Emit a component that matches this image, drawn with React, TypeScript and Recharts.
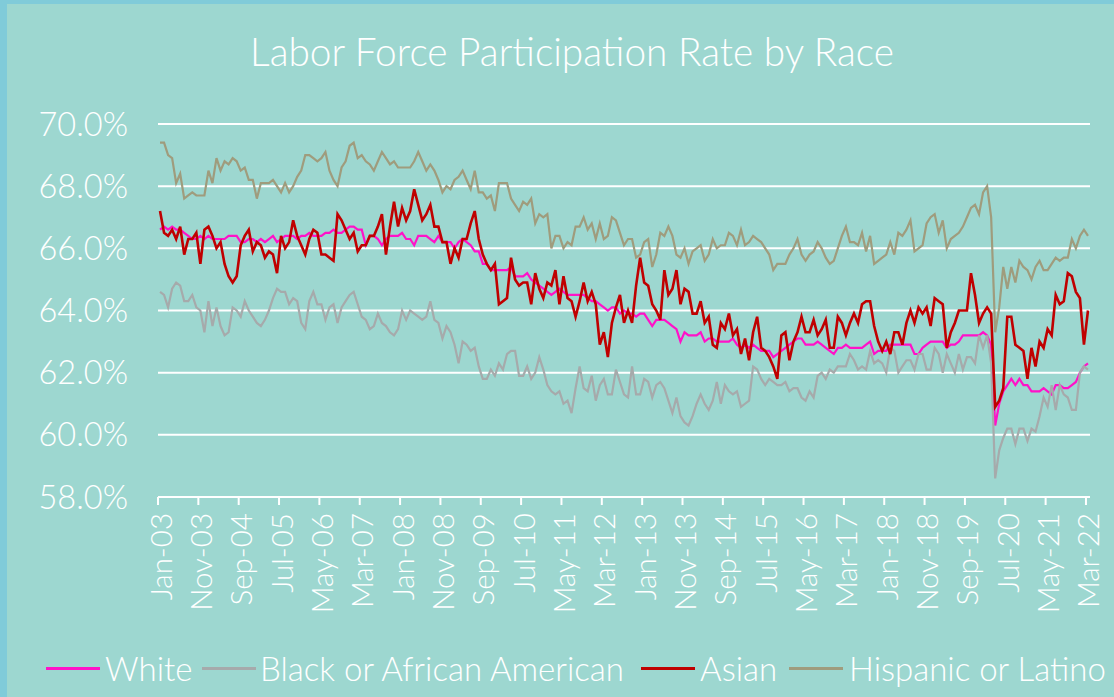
import React from 'react';
import { LineChart, Line, XAxis, YAxis, CartesianGrid } from 'recharts';

const TITLE = 'Labor Force Participation Rate by Race';

const TICK_LABELS = [
  'Jan-03', 'Nov-03', 'Sep-04', 'Jul-05', 'May-06', 'Mar-07', 'Jan-08', 'Nov-08',
  'Sep-09', 'Jul-10', 'May-11', 'Mar-12', 'Jan-13', 'Nov-13', 'Sep-14', 'Jul-15',
  'May-16', 'Mar-17', 'Jan-18', 'Nov-18', 'Sep-19', 'Jul-20', 'May-21', 'Mar-22',
];

const Y_TICKS = [58, 60, 62, 64, 66, 68, 70];

const WHITE = [
  66.6, 66.7, 66.6, 66.7, 66.6, 66.6, 66.5, 66.4, 66.3, 66.3,
  66.4, 66.3, 66.4, 66.3, 66.3, 66.3, 66.3, 66.4, 66.4, 66.4,
  66.2, 66.2, 66.3, 66.3, 66.2, 66.3, 66.2, 66.3, 66.4, 66.2,
  66.3, 66.4, 66.4, 66.4, 66.3, 66.4, 66.4, 66.5, 66.4, 66.4,
  66.4, 66.5, 66.5, 66.6, 66.5, 66.5, 66.6, 66.7, 66.7, 66.6,
  66.6, 66.1, 66.4, 66.4, 66.3, 66.1, 66.3, 66.4, 66.4, 66.4,
  66.5, 66.3, 66.3, 66.1, 66.4, 66.4, 66.4, 66.3, 66.2, 66.4,
  66.2, 66.2, 66.2, 66.0, 66.2, 66.3, 66.2, 66.1, 65.9, 65.9,
  65.5, 65.5, 65.3, 65.3, 65.3, 65.3, 65.3, 65.4, 65.1, 65.1,
  65.1, 65.2, 65.0, 64.9, 64.8, 64.7, 64.6, 64.5, 64.6, 64.7,
  64.6, 64.5, 64.5, 64.5, 64.5, 64.5, 64.4, 64.3, 64.3, 64.2,
  64.1, 64.0, 64.1, 64.1, 63.9, 64.0, 63.9, 63.9, 63.8, 63.9,
  63.9, 63.7, 63.5, 63.7, 63.7, 63.7, 63.6, 63.5, 63.4, 63.0,
  63.3, 63.2, 63.2, 63.2, 63.3, 63.0, 63.1, 63.1, 63.0, 63.0,
  63.0, 63.0, 63.1, 62.9, 62.8, 62.9, 62.8, 62.9, 62.8, 62.7,
  62.7, 62.7, 62.5, 62.6, 62.7, 62.8, 62.9, 63.0, 63.1, 63.1,
  62.9, 62.9, 62.9, 63.0, 62.9, 62.8, 62.7, 62.6, 62.8, 62.8,
  62.9, 62.8, 62.8, 62.8, 62.8, 62.9, 63.0, 62.6, 62.7, 62.7,
  62.7, 62.9, 62.9, 62.9, 62.9, 62.9, 62.9, 62.6, 62.6, 62.8,
  62.9, 63.0, 63.0, 63.0, 63.0, 62.8, 62.9, 62.9, 63.0, 63.2,
  63.2, 63.2, 63.2, 63.2, 63.3, 63.2, 62.9, 60.3, 61.0, 61.4,
  61.6, 61.8, 61.6, 61.8, 61.6, 61.6, 61.4, 61.4, 61.4, 61.5,
  61.4, 61.3, 61.6, 61.6, 61.5, 61.5, 61.6, 61.7, 62.0, 62.2,
  62.3,
];

const BLACK = [
  64.6, 64.5, 64.1, 64.7, 64.9, 64.8, 64.3, 64.3, 64.5, 64.1,
  64.0, 63.3, 64.3, 63.5, 64.1, 63.5, 63.2, 63.3, 64.1, 64.0,
  63.8, 64.3, 64.0, 63.8, 63.6, 63.5, 63.7, 64.0, 64.4, 64.7,
  64.6, 64.6, 64.2, 64.4, 64.3, 63.6, 63.4, 64.3, 64.6, 64.2,
  64.2, 63.7, 64.1, 64.2, 63.6, 64.1, 64.3, 64.5, 64.6, 64.2,
  63.8, 63.7, 63.4, 63.5, 63.9, 63.6, 63.5, 63.3, 63.2, 63.4,
  64.0, 63.7, 64.0, 63.9, 63.8, 63.7, 63.8, 64.3, 63.7, 63.6,
  63.1, 63.5, 63.3, 62.9, 62.3, 63.0, 62.9, 62.7, 62.8, 62.2,
  61.8, 61.8, 62.1, 61.9, 62.3, 62.1, 62.6, 62.7, 62.7, 61.9,
  61.9, 62.2, 61.8, 62.0, 62.5, 62.1, 61.6, 61.4, 61.3, 61.4,
  61.0, 61.1, 60.7, 61.5, 62.2, 61.5, 61.4, 61.9, 61.1, 61.6,
  61.8, 61.3, 61.3, 62.1, 61.7, 61.3, 61.2, 62.2, 61.3, 61.3,
  61.8, 61.7, 61.2, 61.6, 61.7, 61.5, 61.1, 60.7, 61.2, 60.6,
  60.4, 60.3, 60.6, 61.0, 61.3, 61.0, 60.8, 61.1, 61.7, 61.0,
  61.6, 61.4, 61.3, 61.4, 60.9, 61.0, 61.1, 62.2, 62.1, 61.8,
  61.6, 61.8, 61.7, 61.6, 61.6, 61.7, 61.4, 61.5, 61.5, 61.2,
  61.1, 61.4, 61.2, 61.9, 62.0, 61.8, 62.1, 62.0, 62.2, 62.2,
  62.2, 62.6, 62.4, 62.1, 62.2, 62.1, 62.7, 62.3, 62.4, 62.3,
  62.0, 62.8, 62.7, 62.0, 62.2, 62.4, 62.4, 62.1, 62.6, 62.6,
  62.1, 62.1, 62.8, 62.6, 62.0, 62.6, 62.3, 62.0, 62.6, 62.1,
  62.5, 62.5, 62.3, 63.2, 62.8, 63.2, 62.3, 58.6, 59.5, 59.9,
  60.2, 60.2, 59.7, 60.2, 60.2, 59.8, 60.2, 60.1, 60.6, 61.2,
  60.9, 61.6, 60.8, 61.6, 61.3, 61.2, 60.8, 60.8, 62.0, 62.2,
  62.1,
];

const ASIAN = [
  67.2, 66.5, 66.4, 66.6, 66.3, 66.7, 65.8, 66.3, 66.3, 66.5,
  65.5, 66.6, 66.7, 66.4, 66.0, 66.2, 65.5, 65.1, 64.9, 65.1,
  66.1, 66.4, 66.6, 65.9, 66.2, 66.1, 65.7, 65.9, 65.8, 65.2,
  66.4, 66.0, 66.2, 66.9, 66.4, 66.1, 65.8, 66.3, 66.6, 66.5,
  65.8, 65.8, 65.7, 65.6, 67.1, 66.9, 66.6, 66.3, 66.5, 65.9,
  66.1, 66.1, 66.4, 66.4, 66.7, 67.1, 65.8, 66.7, 67.5, 66.7,
  67.3, 66.9, 67.2, 67.9, 67.4, 66.9, 67.1, 67.4, 66.7, 66.7,
  66.2, 66.2, 65.5, 66.0, 65.7, 66.3, 66.3, 66.8, 67.2, 66.3,
  65.8, 65.5, 65.3, 65.5, 64.2, 64.3, 64.4, 65.7, 65.0, 64.8,
  64.9, 64.9, 64.2, 65.2, 64.7, 64.4, 64.9, 64.8, 65.3, 64.2,
  65.1, 64.4, 64.3, 63.8, 64.3, 64.9, 64.3, 64.6, 64.2, 62.9,
  63.3, 62.5, 63.6, 64.1, 64.5, 63.6, 64.0, 63.6, 64.8, 65.7,
  64.9, 64.8, 64.2, 64.0, 63.7, 65.3, 64.5, 64.7, 65.3, 64.2,
  64.7, 64.6, 63.9, 63.9, 64.3, 63.6, 63.8, 62.9, 62.8, 63.6,
  63.4, 63.9, 63.2, 63.4, 62.6, 63.1, 62.4, 63.3, 63.8, 62.8,
  62.7, 62.5, 62.2, 61.8, 63.2, 63.3, 62.4, 63.0, 63.3, 63.8,
  63.3, 63.3, 63.7, 63.2, 63.4, 63.7, 62.8, 62.8, 63.8, 63.6,
  63.2, 63.6, 63.9, 63.6, 64.2, 64.3, 64.3, 63.5, 63.0, 62.7,
  63.0, 62.6, 63.3, 63.3, 62.9, 63.6, 64.0, 63.6, 64.1, 63.9,
  64.1, 63.5, 64.4, 64.3, 64.2, 62.8, 63.3, 63.6, 64.0, 64.0,
  64.0, 65.2, 64.5, 63.6, 63.9, 64.1, 63.9, 60.9, 61.1, 61.5,
  63.8, 63.8, 62.9, 62.8, 62.7, 61.8, 62.8, 62.2, 63.0, 62.8,
  63.4, 63.2, 64.5, 64.2, 64.3, 65.2, 65.1, 64.6, 64.4, 62.9,
  64.0,
];

const HISPANIC = [
  69.4, 69.4, 69.0, 68.9, 68.1, 68.4, 67.6, 67.7, 67.8, 67.7,
  67.7, 67.7, 68.5, 68.1, 68.9, 68.5, 68.8, 68.7, 68.9, 68.8,
  68.5, 68.6, 68.2, 68.2, 67.6, 68.1, 68.1, 68.1, 68.2, 68.0,
  67.8, 68.1, 67.8, 68.0, 68.3, 68.5, 69.0, 69.0, 68.9, 68.8,
  68.9, 69.1, 68.5, 68.2, 68.0, 68.6, 68.8, 69.3, 69.4, 68.9,
  69.0, 68.8, 68.7, 68.5, 68.8, 69.1, 68.9, 68.7, 68.8, 68.6,
  68.6, 68.6, 68.6, 68.8, 69.1, 68.8, 68.5, 68.7, 68.5, 68.2,
  67.8, 68.0, 67.9, 68.2, 68.3, 68.5, 68.2, 67.9, 68.5, 67.8,
  67.8, 67.6, 67.7, 67.2, 68.1, 68.1, 68.1, 67.6, 67.4, 67.2,
  67.5, 67.4, 67.6, 66.8, 67.1, 67.0, 67.1, 66.0, 66.4, 66.4,
  66.0, 66.2, 66.1, 66.7, 66.7, 67.0, 66.6, 66.8, 66.3, 66.8,
  66.3, 66.4, 67.0, 66.9, 66.5, 66.1, 66.3, 66.3, 65.7, 65.8,
  66.2, 66.3, 65.4, 65.8, 66.5, 66.4, 66.7, 66.4, 65.8, 65.7,
  66.0, 65.5, 65.9, 66.0, 66.1, 65.6, 65.8, 66.3, 66.0, 66.1,
  66.1, 66.5, 66.4, 66.1, 66.6, 66.1, 66.2, 66.4, 66.3, 66.2,
  66.0, 65.8, 65.3, 65.5, 65.5, 65.5, 65.8, 66.0, 66.3, 65.8,
  65.6, 65.8, 65.9, 66.2, 66.0, 65.7, 65.5, 65.6, 66.0, 66.4,
  66.7, 66.2, 66.2, 66.1, 66.5, 65.9, 66.4, 65.5, 65.6, 65.7,
  65.8, 66.2, 65.8, 66.5, 66.4, 66.6, 66.9, 65.9, 66.0, 66.1,
  66.8, 67.0, 67.1, 66.5, 66.9, 66.0, 66.3, 66.4, 66.5, 66.7,
  67.0, 67.3, 67.4, 67.1, 67.8, 68.0, 67.0, 63.3, 64.1, 65.4,
  64.7, 65.4, 64.9, 65.6, 65.4, 65.3, 65.0, 65.4, 65.6, 65.3,
  65.3, 65.5, 65.7, 65.6, 65.7, 65.7, 66.3, 66.0, 66.4, 66.6,
  66.4,
];

const SERIES = [
  { key: 'white', name: 'White', color: '#FF12C8', width: 2.2 },
  { key: 'black', name: 'Black or African American', color: '#A6AAAB', width: 2.2 },
  { key: 'asian', name: 'Asian', color: '#C00000', width: 2.6 },
  { key: 'hispanic', name: 'Hispanic or Latino', color: '#9F9C7D', width: 2.2 },
];

// legend item left edges (line sample start, text start)
const LEGEND_POS = [
  { line: 46, text: 105 },
  { line: 202, text: 260 },
  { line: 641, text: 700 },
  { line: 789, text: 849 },
];

const DATA = WHITE.map((w, i) => ({
  i,
  white: w,
  black: BLACK[i],
  asian: ASIAN[i],
  hispanic: HISPANIC[i],
}));

const X_TICKS = TICK_LABELS.map((_, k) => k * 10 - 0.5);

const FONT = 'Lato, "Open Sans", sans-serif';

const XTick = (props: any) => {
  const { x, y, payload } = props;
  const idx = Math.round((payload.value + 0.5) / 10);
  return (
    <text
      x={x + 2}
      y={y + 1}
      transform={`rotate(-90, ${x + 2}, ${y + 1})`}
      textAnchor="end"
      dominantBaseline="central"
      fill="#FFFFFF"
      fontSize={29.5}
      fontWeight={300}
      fontFamily={FONT}
    >
      {TICK_LABELS[idx]}
    </text>
  );
};

export default function App() {
  return (
    <div style={{ position: 'relative', width: 1114, height: 697, background: '#80CBD9', overflow: 'hidden' }}>
      <style>{`body{margin:0;}`}</style>
      <div style={{ position: 'absolute', left: 7, top: 4, width: 1107, height: 693, background: '#9DD7D0' }} />
      <svg width={1114} height={100} style={{ position: 'absolute', left: 0, top: 0 }}>
        <text x={572} y={66} textAnchor="middle" fill="#FFFFFF" fontSize={38.8} fontWeight={300} fontFamily={FONT}>
          {TITLE}
        </text>
      </svg>
      <div style={{ position: 'absolute', left: 0, top: 0 }}>
        <LineChart width={1114} height={697} data={DATA} margin={{ top: 124, right: 24, bottom: 0, left: 0 }}>
          <CartesianGrid vertical={false} stroke="#FFFFFF" strokeWidth={2} />
          <XAxis
            type="number"
            dataKey="i"
            domain={[-0.5, 230.5]}
            ticks={X_TICKS}
            interval={0}
            height={200}
            tick={<XTick />}
            tickSize={8}
            tickMargin={7}
            axisLine={{ stroke: '#FFFFFF', strokeWidth: 2 }}
            tickLine={{ stroke: '#FFFFFF', strokeWidth: 2 }}
            allowDataOverflow
          />
          <YAxis
            domain={[58, 70]}
            ticks={Y_TICKS}
            width={158}
            axisLine={false}
            tickLine={false}
            tickMargin={24}
            tickFormatter={(v: number) => `${v.toFixed(1)}%`}
            tick={{ fill: '#FFFFFF', fontSize: 32.5, fontWeight: 300, fontFamily: FONT }}
            allowDataOverflow
          />
          {SERIES.map((s) => (
            <Line
              key={s.key}
              type="linear"
              dataKey={s.key}
              name={s.name}
              stroke={s.color}
              strokeWidth={s.width}
              dot={false}
              activeDot={false}
              isAnimationActive={false}
            />
          ))}
        </LineChart>
      </div>
      {SERIES.map((s, k) => (
        <React.Fragment key={s.key}>
          <div
            style={{
              position: 'absolute',
              left: LEGEND_POS[k].line,
              top: 667,
              width: 54,
              height: 3,
              background: s.color,
            }}
          />
          <div
            style={{
              position: 'absolute',
              left: LEGEND_POS[k].text,
              top: 648,
              height: 40,
              lineHeight: '40px',
              fontFamily: FONT,
              fontWeight: 300,
              fontSize: 33,
              color: '#FFFFFF',
              whiteSpace: 'nowrap',
            }}
          >
            {s.name}
          </div>
        </React.Fragment>
      ))}
    </div>
  );
}
